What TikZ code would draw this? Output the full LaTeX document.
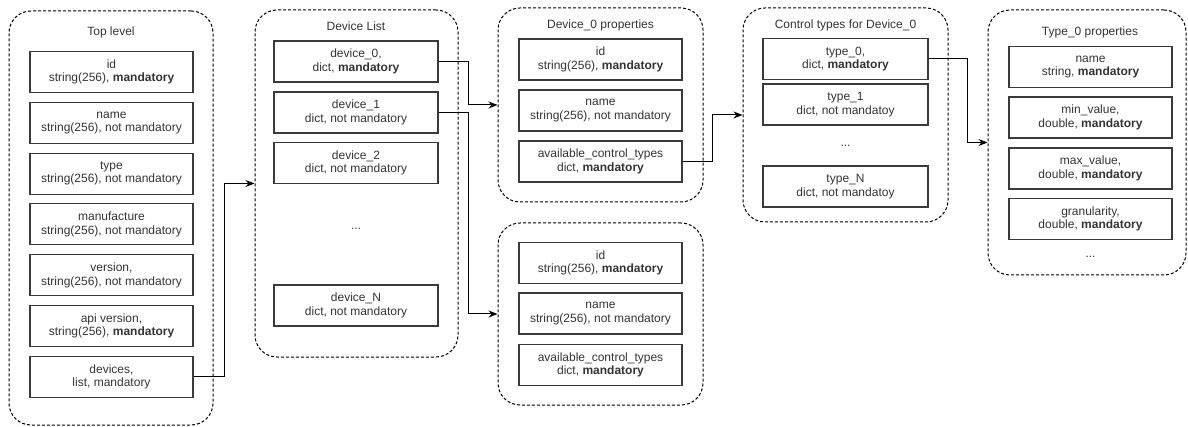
\documentclass[tikz,border=0pt]{standalone}
\usepackage{fontspec}
\setmainfont{Liberation Sans}
\usetikzlibrary{arrows.meta}
\definecolor{txt}{HTML}{333333}
\definecolor{bdr}{HTML}{3A3A3A}
\begin{document}
\begin{tikzpicture}[x=1pt,y=-1pt,
 cont/.style={draw=black, line width=1pt, dash pattern=on 3pt off 2pt, rounded corners=22pt, inner sep=0pt},
 fld/.style={draw=bdr, line width=1.1pt, minimum height=41pt, inner sep=0pt, align=center, text=txt, font=\fontsize{12}{13.5}\selectfont},
 ttl/.style={text=txt, font=\fontsize{12}{14}\selectfont, inner sep=0pt},
 dots/.style={text=txt, font=\fontsize{12}{14}\selectfont, inner sep=0pt},
 arr/.style={draw=black, line width=1pt, -{Stealth[length=9pt,width=7pt]}}]
\useasboundingbox (0,0) rectangle (1188,427);

% ---------- Top level ----------
\node[cont, minimum width=204pt, minimum height=414pt] (T) at (111,218) {};
\node[ttl] (Tt) at (111,32) {Top level};
\begin{scope}[every node/.append style={fld, minimum width=163pt}]
\node (t0) at (111.5,72)    {id\\string(256), \textbf{mandatory}};
\node (t1) at (111.5,122.8) {name\\string(256), not mandatory};
\node (t2) at (111.5,173.6) {type\\string(256), not mandatory};
\node (t3) at (111.5,224.4) {manufacture\\string(256), not mandatory};
\node (t4) at (111.5,275.2) {version,\\string(256), not mandatory};
\node (t5) at (111.5,326)   {api version,\\string(256), \textbf{mandatory}};
\node (t6) at (111.5,376.8) {devices,\\list, mandatory};
\end{scope}

% ---------- Device List ----------
\node[cont, minimum width=203pt, minimum height=347pt] (D) at (356.5,183.5) {};
\node[ttl] (Dt) at (356,26) {Device List};
\begin{scope}[every node/.append style={fld, minimum width=164pt}]
\node (d0) at (356,61.5)  {device\_0,\\dict, \textbf{mandatory}};
\node (d1) at (356,112.5) {device\_1\\dict, not mandatory};
\node (d2) at (356,163)   {device\_2\\dict, not mandatory};
\node (dN) at (356,305.5) {device\_N\\dict, not mandatory};
\end{scope}
\node[dots] (Dd) at (356,229) {...};

% ---------- Device_0 properties ----------
\node[cont, minimum width=205pt, minimum height=194pt] (P0) at (600.5,105) {};
\node[ttl] (P0t) at (600.5,25) {Device\_0 properties};
\begin{scope}[every node/.append style={fld, minimum width=163pt}]
\node (p0a) at (600.5,59.5)  {id\\string(256), \textbf{mandatory}};
\node (p0b) at (600.5,110.5) {name\\string(256), not mandatory};
\node (p0c) at (600.5,161.5) {available\_control\_types\\dict, \textbf{mandatory}};
\end{scope}

% ---------- Device_1 properties ----------
\node[cont, minimum width=205pt, minimum height=182pt] (P1) at (600.5,314) {};
\begin{scope}[every node/.append style={fld, minimum width=163pt}]
\node (p1a) at (600.5,263)   {id\\string(256), \textbf{mandatory}};
\node (p1b) at (600.5,313.5) {name\\string(256), not mandatory};
\node (p1c) at (600.5,365)   {available\_control\_types\\dict, \textbf{mandatory}};
\end{scope}

% ---------- Control types ----------
\node[cont, minimum width=205pt, minimum height=214pt] (C) at (845.5,115) {};
\node[ttl] (Ct) at (845.5,25) {Control types for Device\_0};
\begin{scope}[every node/.append style={fld, minimum width=165pt}]
\node (c0) at (845.5,59)    {type\_0,\\dict, \textbf{mandatory}};
\node (c1) at (845.5,104.5) {type\_1\\dict, not mandatoy};
\node (cN) at (845.5,186.5) {type\_N\\dict, not mandatoy};
\end{scope}
\node[dots] (Cd) at (845.5,146) {...};

% ---------- Type_0 properties ----------
\node[cont, minimum width=198pt, minimum height=265pt] (Y) at (1087,142.5) {};
\node[ttl] (Yt) at (1090,32) {Type\_0 properties};
\begin{scope}[every node/.append style={fld, minimum width=163pt}]
\node (y0) at (1090.5,67)    {name\\string, \textbf{mandatory}};
\node (y1) at (1090.5,117.5) {min\_value,\\double, \textbf{mandatory}};
\node (y2) at (1090.5,168.5) {max\_value,\\double, \textbf{mandatory}};
\node (y3) at (1090.5,219)   {granularity,\\double, \textbf{mandatory}};
\end{scope}
\node[dots] (Yd) at (1090.5,257) {...};

% ---------- connectors ----------
\draw[arr] (t6.east) -- ++(31,0) |- (D.west);
\draw[arr] (d0.east) -- ++(30,0) |- (P0.west);
\draw[arr] (d1.east) -- ++(30,0) |- (P1.west);
\draw[arr] (p0c.east) -- ++(30,0) |- (C.west);
\draw[arr] (c0.east) -- ++(39,0) |- (Y.west);
\end{tikzpicture}
\end{document}
